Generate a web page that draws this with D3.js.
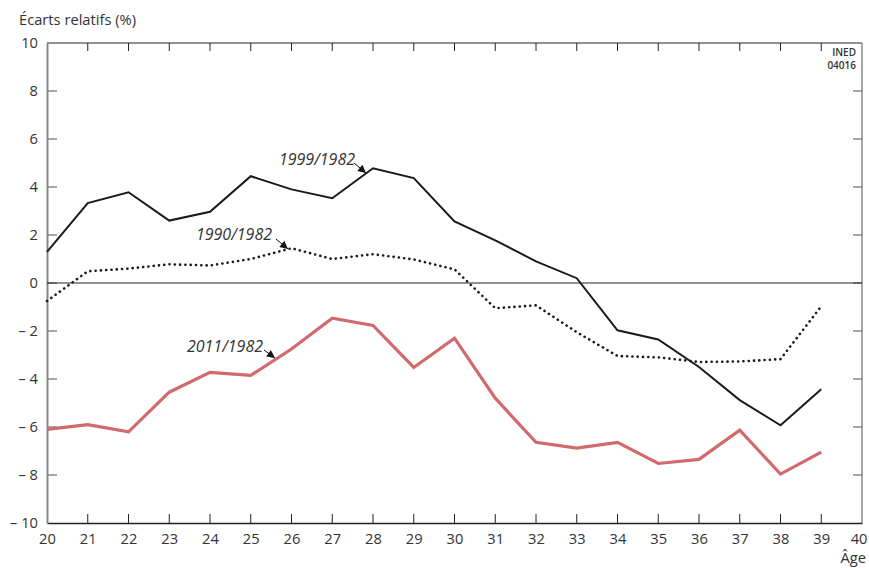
<!DOCTYPE html>
<html><head><meta charset="utf-8">
<script src="https://cdn.jsdelivr.net/npm/d3@7"></script>
<style>body{margin:0;background:#fff;} text{font-family:"Open Sans","Noto Sans",sans-serif;fill:#333;}</style>
</head><body>
<svg id="c" width="869" height="568"></svg>
<script>
const ages = d3.range(20, 40);
const s1999 = [1.3,3.33,3.78,2.6,2.97,4.45,3.9,3.53,4.78,4.37,2.57,1.78,0.9,0.2,-1.97,-2.35,-3.5,-4.88,-5.93,-4.43];
const s1990 = [-0.75,0.49,0.6,0.78,0.73,1.0,1.45,1.0,1.2,0.98,0.57,-1.05,-0.93,-2.05,-3.04,-3.1,-3.29,-3.27,-3.17,-0.97];
const s2011 = [-6.1,-5.9,-6.2,-4.55,-3.72,-3.85,-2.75,-1.47,-1.77,-3.52,-2.3,-4.8,-6.64,-6.88,-6.64,-7.52,-7.35,-6.13,-7.96,-7.05];
const xTicks = d3.range(20, 41);
const yTicks = d3.range(-10, 11, 2);

const svg = d3.select("#c");
const L = 47, R = 862, T = 43, B = 523;
const x = d3.scaleLinear().domain([20, 40]).range([L, R]);
const y = d3.scaleLinear().domain([-10, 10]).range([B, T]);
const fmt = v => v < 0 ? "\u2013 " + Math.abs(v) : String(v);
const FF = '"Open Sans","Noto Sans",sans-serif';

// frame
svg.append("line").attr("x1", L).attr("x2", R).attr("y1", T).attr("y2", T).attr("stroke", "#222").attr("stroke-width", 1);
svg.append("line").attr("x1", R).attr("x2", R).attr("y1", T).attr("y2", B).attr("stroke", "#777").attr("stroke-width", 1.3);

// top ticks
svg.append("g").selectAll("line").data(xTicks.slice(1, -1)).join("line")
  .attr("x1", d => x(d)).attr("x2", d => x(d)).attr("y1", T).attr("y2", T + 8).attr("stroke", "#222");
// right ticks
svg.append("g").selectAll("line").data(yTicks.slice(1, -1)).join("line")
  .attr("x1", R - 9).attr("x2", R).attr("y1", d => y(d)).attr("y2", d => y(d)).attr("stroke", "#777").attr("stroke-width", 1.3);

// bottom axis
const gx = svg.append("g").attr("transform", `translate(0,${B})`)
  .call(d3.axisBottom(x).tickValues(xTicks).tickSize(0).tickPadding(11).tickFormat(d3.format("d")));
gx.select(".domain").attr("stroke", "#222").attr("stroke-width", 1.3);
gx.selectAll("text").attr("font-size", 14.7).attr("fill", "#333").style("font-family", FF);
gx.selectAll(".tick").filter(d => d === 40).select("text").attr("text-anchor", "end").attr("x", 5);
svg.append("g").selectAll("line").data(xTicks.slice(1, -1)).join("line")
  .attr("x1", d => x(d)).attr("x2", d => x(d)).attr("y1", B).attr("y2", B - 9).attr("stroke", "#222");

// left axis
const gy = svg.append("g").attr("transform", `translate(${L},0)`)
  .call(d3.axisLeft(y).tickValues(yTicks).tickSize(0).tickPadding(9).tickFormat(fmt));
gy.select(".domain").attr("stroke", "#888").attr("stroke-width", 2);
gy.selectAll("text").attr("font-size", 14.7).attr("fill", "#333").style("font-family", FF);
svg.append("g").selectAll("line").data(yTicks.slice(1, -1)).join("line")
  .attr("x1", L).attr("x2", L + 10).attr("y1", d => y(d)).attr("y2", d => y(d)).attr("stroke", "#777").attr("stroke-width", 1.3);

// zero line
svg.append("line").attr("x1", L).attr("x2", R).attr("y1", y(0)).attr("y2", y(0)).attr("stroke", "#222").attr("stroke-width", 1);

// series
const line = d3.line().x((d, i) => x(ages[i])).y(d => y(d));
svg.append("path").datum(s1999).attr("d", line).attr("fill", "none").attr("stroke", "#1a1a1a").attr("stroke-width", 2);
svg.append("path").datum(s1990).attr("d", line).attr("fill", "none").attr("stroke", "#1a1a1a").attr("stroke-width", 2.6)
  .attr("stroke-dasharray", "0.1 5.2").attr("stroke-linecap", "round");
svg.append("path").datum(s2011).attr("d", line).attr("fill", "none").attr("stroke", "#d06a6c").attr("stroke-width", 3.2);

// arrows
const defs = svg.append("defs");
defs.append("marker").attr("id", "ah").attr("viewBox", "0 0 10 10").attr("refX", 10).attr("refY", 5)
  .attr("markerWidth", 10).attr("markerHeight", 8).attr("markerUnits", "userSpaceOnUse").attr("orient", "auto")
  .append("path").attr("d", "M0,0 L10,5 L0,10 Z").attr("fill", "#111");

const labels = [
  {t: "1999/1982", tx: 355, ty: 165, x1: 354, y1: 163, x2: 366, y2: 173},
  {t: "1990/1982", tx: 272, ty: 240, x1: 276, y1: 239, x2: 288, y2: 249},
  {t: "2011/1982", tx: 263, ty: 352, x1: 264, y1: 350, x2: 275, y2: 358}
];
labels.forEach(l => {
  svg.append("text").attr("x", l.tx).attr("y", l.ty).attr("text-anchor", "end").attr("font-size", 16)
    .attr("font-style", "italic").text(l.t);
  svg.append("line").attr("x1", l.x1).attr("y1", l.y1).attr("x2", l.x2).attr("y2", l.y2)
    .attr("stroke", "#111").attr("stroke-width", 1).attr("marker-end", "url(#ah)");
});

// titles
svg.append("text").attr("x", 19).attr("y", 25).attr("font-size", 14.7).text("Écarts relatifs (%)");
svg.append("text").attr("x", 866).attr("y", 563).attr("text-anchor", "end").attr("font-size", 14.7).text("Âge");
svg.append("text").attr("x", 856).attr("y", 56).attr("text-anchor", "end").attr("font-size", 10).attr("font-weight", 600)
  .style("font-family", '"Liberation Sans Narrow","Open Sans",sans-serif').text("INED");
svg.append("text").attr("x", 856).attr("y", 69).attr("text-anchor", "end").attr("font-size", 10).attr("font-weight", 600)
  .style("font-family", '"Liberation Sans Narrow","Open Sans",sans-serif').text("04016");
</script>
</body></html>
